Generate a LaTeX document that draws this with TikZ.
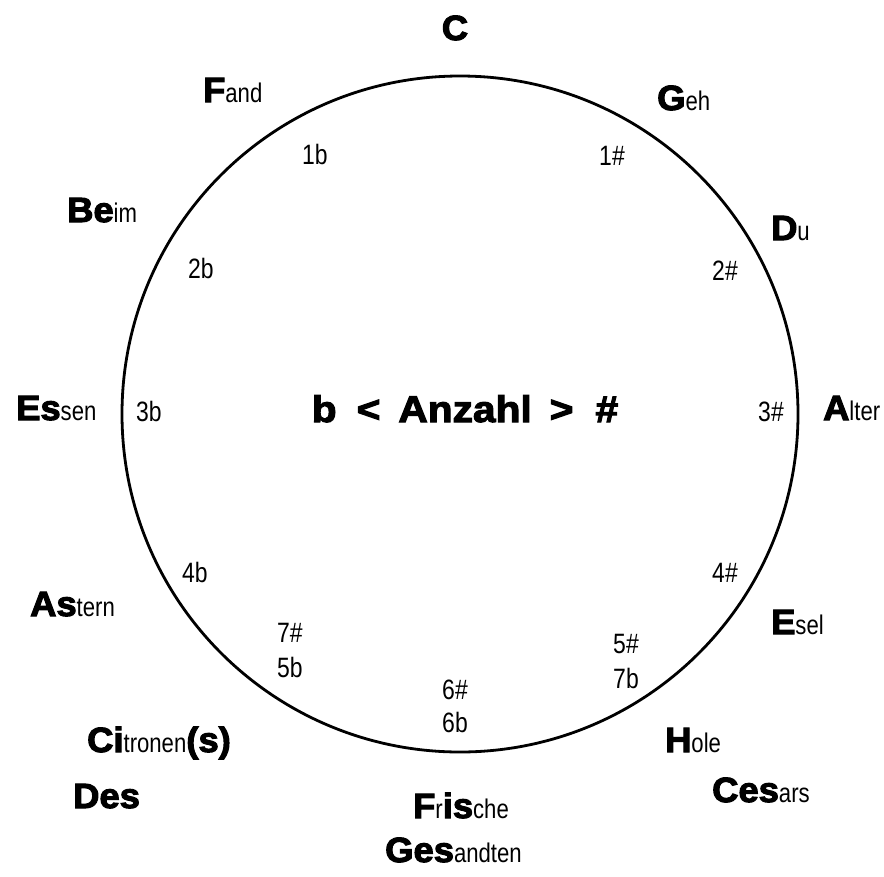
\documentclass[tikz,border=0pt]{standalone}
\usepackage{fontspec}
\usepackage{tikz}
\newfontfamily\heavyfont[FakeBold=3,FakeStretch=1.04]{Liberation Sans Bold}
\newfontfamily\wideheavyfont[FakeBold=3,FakeStretch=1.1]{Liberation Sans Bold}
\newfontfamily\narrowfont[FakeStretch=0.82]{Liberation Sans}
\newcommand{\hv}[1]{{\heavyfont\fontsize{35}{35}\selectfont #1}}

\begin{document}
\begin{tikzpicture}[
  x=1pt, y=-1pt,
  key/.style={anchor=base west, inner sep=0pt, font=\narrowfont\fontsize{27}{27}\selectfont},
  count/.style={anchor=base, inner sep=0pt, font=\narrowfont\fontsize{28}{28}\selectfont},
  ring/.style={line width=2.8pt},
]
\useasboundingbox (0,0) rectangle (884,876);
\draw[ring] (460,414) circle (338);
% keys round the circle
\node[anchor=base, inner sep=0pt] (c) at (455,40) {\hv{C}};
\node[key] (g) at (657,110) {\hv{G}eh};
\node[key] (d) at (771,240) {\hv{D}u};
\node[key] (a) at (823,420) {\hv{A}lter};
\node[key] (e) at (771,634) {\hv{E}sel};
\node[key] (h) at (665,752) {\hv{H}ole};
\node[key] (ces) at (712,802) {\hv{Ces}ars};
\node[key] (fis) at (413,818) {\hv{F}r\hv{is}che};
\node[key] (ges) at (385,862) {\hv{Ges}andten};
\node[key] (cis) at (87,752) {\hv{Ci}tronen\hv{(s)}};
\node[key] (des) at (73,808) {\hv{Des}};
\node[key] (as) at (30,616) {\hv{As}tern};
\node[key] (es) at (16,420) {\hv{Es}sen};
\node[key] (b) at (67,222) {\hv{Be}im};
\node[key] (f) at (203,102) {\hv{F}and};
% accidentals inside
\node[count] (s1) at (612,165) {1\#};
\node[count] (s2) at (725,280) {2\#};
\node[count] (s3) at (771,421) {3\#};
\node[count] (s4) at (725,582) {4\#};
\node[count] (s5) at (626,653) {5\#};
\node[count] (f7) at (626,688) {7b};
\node[count] (s6) at (455,699) {6\#};
\node[count] (f6) at (455,732) {6b};
\node[count] (s7) at (290,642) {7\#};
\node[count] (f5) at (290,677) {5b};
\node[count] (f4) at (195,582) {4b};
\node[count] (f3) at (149,421) {3b};
\node[count] (f2) at (201,278) {2b};
\node[count] (f1) at (315,164) {1b};
\node[anchor=base, inner sep=0pt, font=\wideheavyfont\fontsize{37}{37}\selectfont] (mid) at (465,422)
  {b\hspace{20pt}<\hspace{18pt}Anzahl\hspace{18pt}>\hspace{22pt}\#};
\end{tikzpicture}
\end{document}
